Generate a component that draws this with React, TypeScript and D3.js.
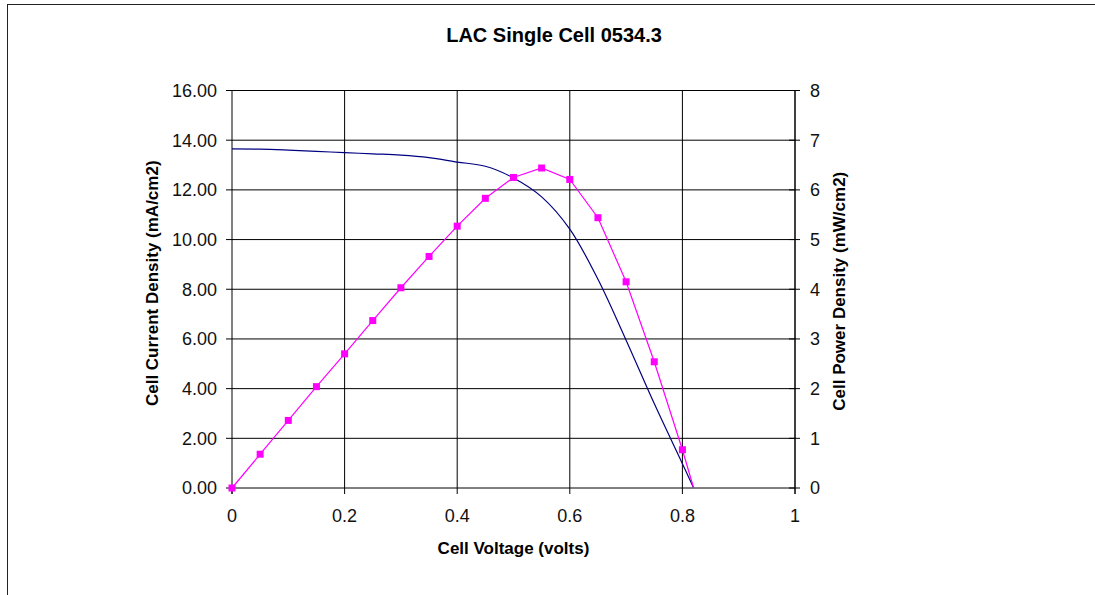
import React from 'react';
import * as d3 from 'd3';

// chart values
const voltage = [0, 0.05, 0.1, 0.15, 0.2, 0.25, 0.3, 0.35, 0.4, 0.45, 0.5, 0.55, 0.6, 0.65, 0.7, 0.75, 0.8, 0.82];
const currentDensity = [13.65, 13.64, 13.6, 13.55, 13.5, 13.45, 13.4, 13.3, 13.12, 12.95, 12.48, 11.72, 10.42, 8.4, 5.95, 3.4, 0.98, 0];
const powerDensity = [0, 0.68, 1.36, 2.04, 2.7, 3.37, 4.03, 4.66, 5.27, 5.83, 6.25, 6.44, 6.21, 5.44, 4.15, 2.54, 0.77, 0];
// the last point of the power curve carries no marker
const markerCount = 17;

const xTicks = [0, 0.2, 0.4, 0.6, 0.8, 1];
const leftTicks = [0, 2, 4, 6, 8, 10, 12, 14, 16];
const rightTicks = [0, 1, 2, 3, 4, 5, 6, 7, 8];

const title = 'LAC Single Cell 0534.3';
const xLabel = 'Cell Voltage (volts)';
const yLeftLabel = 'Cell Current Density (mA/cm2)';
const yRightLabel = 'Cell Power Density (mW/cm2)';

const W = 1095,
  H = 595;
const plot = { left: 232, right: 795, top: 90.5, bottom: 488 };
const font = 'Arial, "Liberation Sans", Helvetica, sans-serif';

export default function App() {
  const x = d3.scaleLinear().domain([0, 1]).range([plot.left, plot.right]);
  const yL = d3.scaleLinear().domain([0, 16]).range([plot.bottom, plot.top]);
  const yR = d3.scaleLinear().domain([0, 8]).range([plot.bottom, plot.top]);

  const currentPts = voltage.map((v, i) => [v, currentDensity[i]] as [number, number]);
  const powerPts = voltage.map((v, i) => [v, powerDensity[i]] as [number, number]);

  const currentLine = d3
    .line<[number, number]>()
    .curve(d3.curveCatmullRom.alpha(0.5))
    .x(d => x(d[0]))
    .y(d => yL(d[1]));
  const powerLine = d3
    .line<[number, number]>()
    .x(d => x(d[0]))
    .y(d => yR(d[1]));

  const fmtLeft = d3.format('.2f');
  const fmtX = (v: number) => String(v);
  const ms = 7;

  return (
    <svg
      width={W}
      height={H}
      style={{ position: 'absolute', left: 0, top: 0, background: '#fff' }}
      fontFamily={font}
    >
      <rect x={7.5} y={4.5} width={W + 20} height={H + 20} fill="#fff" stroke="#222" strokeWidth={1} />

      {/* gridlines */}
      {leftTicks.map(t => (
        <line key={'h' + t} x1={plot.left} x2={plot.right} y1={yL(t)} y2={yL(t)} stroke="#000" strokeWidth={1} />
      ))}
      {xTicks.slice(1).map(t => (
        <line key={'v' + t} x1={x(t)} x2={x(t)} y1={plot.top} y2={plot.bottom} stroke="#000" strokeWidth={1} />
      ))}

      {/* axes */}
      <line x1={plot.left} x2={plot.left} y1={plot.top} y2={plot.bottom + 6} stroke="#000" />
      <line x1={plot.right} x2={plot.right} y1={plot.top} y2={plot.bottom + 6} stroke="#000" />
      {leftTicks.map(t => (
        <g key={'lt' + t}>
          <line x1={plot.left - 6} x2={plot.left} y1={yL(t)} y2={yL(t)} stroke="#000" />
          <text x={217} y={yL(t)} dy="0.36em" textAnchor="end" fontSize={18} fill="#111">
            {fmtLeft(t)}
          </text>
        </g>
      ))}
      {rightTicks.map(t => (
        <g key={'rt' + t}>
          <line x1={plot.right - 6} x2={plot.right + 5} y1={yR(t)} y2={yR(t)} stroke="#000" />
          <text x={810} y={yR(t)} dy="0.36em" textAnchor="start" fontSize={18} fill="#111">
            {t}
          </text>
        </g>
      ))}
      {xTicks.map(t => (
        <g key={'xt' + t}>
          <line x1={x(t)} x2={x(t)} y1={plot.bottom} y2={plot.bottom + 6} stroke="#000" />
          <text x={x(t)} y={522} textAnchor="middle" fontSize={18} fill="#111">
            {fmtX(t)}
          </text>
        </g>
      ))}

      {/* series */}
      <path d={currentLine(currentPts) || ''} fill="none" stroke="#000080" strokeWidth={1.2} />
      <path d={powerLine(powerPts) || ''} fill="none" stroke="#ff00ff" strokeWidth={1.2} />
      {powerPts.slice(0, markerCount).map((d, i) => (
        <rect key={'m' + i} x={x(d[0]) - ms / 2} y={yR(d[1]) - ms / 2} width={ms} height={ms} fill="#ff00ff" />
      ))}

      {/* titles */}
      <text x={554} y={41.5} textAnchor="middle" fontSize={20} fontWeight="bold" fill="#000">
        {title}
      </text>
      <text x={(plot.left + plot.right) / 2} y={554} textAnchor="middle" fontSize={17} fontWeight="bold" fill="#000">
        {xLabel}
      </text>
      <text
        transform={`translate(152,${(plot.top + plot.bottom) / 2 - 6}) rotate(-90)`}
        textAnchor="middle"
        dominantBaseline="central"
        fontSize={17}
        fontWeight="bold"
        fill="#000"
      >
        {yLeftLabel}
      </text>
      <text
        transform={`translate(839,${(plot.top + plot.bottom) / 2 + 2}) rotate(-90)`}
        textAnchor="middle"
        dominantBaseline="central"
        fontSize={17}
        fontWeight="bold"
        fill="#000"
      >
        {yRightLabel}
      </text>
    </svg>
  );
}
